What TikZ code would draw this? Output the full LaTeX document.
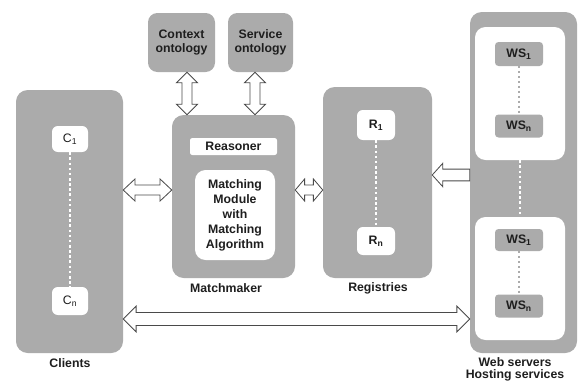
\documentclass[tikz,border=0pt]{standalone}
\usepackage{fontspec}
\setmainfont{Liberation Sans}
\usepackage{xcolor}
\usepackage{tikz}
\usetikzlibrary{calc}
\definecolor{mmgray}{HTML}{ABABAB}
\definecolor{mmdark}{HTML}{4A4A4A}
\definecolor{mmtext}{HTML}{1E1E1E}
\newcommand{\px}{0.03cm}
% hollow arrows: #1 from, #2 to, #3 half shaft, #4 half head, #5 head length
\newcommand{\fathboth}[5]{%
  \draw[fatarrow] let \p1=#1, \p2=#2 in
    (\x1,\y1) -- ({\x1+#5},{\y1+#4}) -- ({\x1+#5},{\y1+#3}) -- ({\x2-#5},{\y1+#3})
    -- ({\x2-#5},{\y1+#4}) -- (\x2,\y1) -- ({\x2-#5},{\y1-#4}) -- ({\x2-#5},{\y1-#3})
    -- ({\x1+#5},{\y1-#3}) -- ({\x1+#5},{\y1-#4}) -- cycle;}
\newcommand{\fatvboth}[5]{%
  \draw[fatarrow] let \p1=#1, \p2=#2 in
    (\x1,\y1) -- ({\x1+#4},{\y1-#5}) -- ({\x1+#3},{\y1-#5}) -- ({\x1+#3},{\y2+#5})
    -- ({\x1+#4},{\y2+#5}) -- (\x1,\y2) -- ({\x1-#4},{\y2+#5}) -- ({\x1-#3},{\y2+#5})
    -- ({\x1-#3},{\y1-#5}) -- ({\x1-#4},{\y1-#5}) -- cycle;}
\newcommand{\fathleft}[5]{%
  \draw[fatarrow] let \p1=#1, \p2=#2 in
    (\x1,\y1) -- ({\x1+#5},{\y1+#4}) -- ({\x1+#5},{\y1+#3}) -- (\x2,{\y1+#3})
    -- (\x2,{\y1-#3}) -- ({\x1+#5},{\y1-#3}) -- ({\x1+#5},{\y1-#4}) -- cycle;}

\begin{document}
\begin{tikzpicture}[x=0.03cm, y=-0.03cm,
  group/.style={fill=mmgray, rounded corners=10pt, inner sep=0pt},
  whitebox/.style={fill=white, rounded corners=5pt, inner sep=1pt, text=mmtext,
    font=\fontsize{10.5}{12.8}\selectfont\bfseries, align=center},
  graybox/.style={fill=mmgray, rounded corners=3pt, inner sep=1pt, text=mmtext,
    minimum width=48*\px, font=\fontsize{10.5}{12}\selectfont\bfseries},
  caption/.style={text=mmtext, inner sep=0pt, align=center,
    font=\fontsize{10.5}{10}\selectfont\bfseries},
  whitedots/.style={white, line width=2.4pt, dash pattern=on 2.2pt off 2.2pt},
  graydots/.style={mmgray, line width=2pt, dash pattern=on 1.8pt off 2.4pt},
  fatarrow/.style={draw=mmdark, fill=white, line width=0.7pt, line join=miter}]
  \useasboundingbox (0,0) rectangle (578,381);

  \node[group, minimum width=107*\px, minimum height=263*\px] (clients) at (69.5,221.5) {};
  \node[whitebox, minimum width=36*\px, minimum height=26*\px, font=\fontsize{10.5}{12}\selectfont] (c1) at (70,139) {C\textsubscript{1}};
  \node[whitebox, minimum width=36*\px, minimum height=28*\px, font=\fontsize{10.5}{12}\selectfont] (cn) at (70,301) {C\textsubscript{n}};
  \node[caption] (clientslabel) at (70,363) {Clients};

  \node[group, rounded corners=8pt, minimum width=67*\px, minimum height=59*\px, text=mmtext, align=center,
    font=\fontsize{10.5}{12.5}\selectfont\bfseries] (context) at (181.5,42.5) {Context\\ontology};
  \node[group, rounded corners=8pt, minimum width=65*\px, minimum height=59*\px, text=mmtext, align=center,
    font=\fontsize{10.5}{12.5}\selectfont\bfseries] (service) at (260.5,42.5) {Service\\ontology};

  \node[group, minimum width=123*\px, minimum height=163*\px] (matchmaker) at (233.5,196.5) {};
  \node[whitebox, rounded corners=2pt, minimum width=87*\px, minimum height=17*\px] (reasoner) at (233.5,146.5) {Reasoner};
  \node[whitebox, rounded corners=9pt, minimum width=80*\px, minimum height=90*\px] (matching) at (235,215)
    {Matching\\Module\\with\\Matching\\Algorithm};
  \node[caption] (matchmakerlabel) at (226,288) {Matchmaker};

  \node[group, minimum width=109*\px, minimum height=191*\px] (registries) at (377.5,182.5) {};
  \node[whitebox, minimum width=38*\px, minimum height=30*\px] (r1) at (376,125) {R\textsubscript{1}};
  \node[whitebox, minimum width=38*\px, minimum height=28*\px] (rn) at (376,241) {R\textsubscript{n}};
  \node[caption] (registrieslabel) at (378,288) {Registries};

  \node[group, minimum width=107*\px, minimum height=341*\px] (webservers) at (523.5,182.5) {};
  \node[whitebox, rounded corners=9pt, minimum width=90*\px, minimum height=133*\px] (hosta) at (520,93.5) {};
  \node[whitebox, rounded corners=9pt, minimum width=90*\px, minimum height=123*\px] (hostb) at (520,278.5) {};
  \node[graybox, minimum height=24*\px] (wsonea) at (519,54) {WS\textsubscript{1}};
  \node[graybox, minimum height=23*\px] (wsna) at (519,126) {WS\textsubscript{n}};
  \node[graybox, minimum height=22*\px] (wsoneb) at (519,240) {WS\textsubscript{1}};
  \node[graybox, minimum height=23*\px] (wsnb) at (519,306) {WS\textsubscript{n}};
  \node[caption] (webserverslabel) at (515,369.5) {Web servers\\Hosting services};

  \draw[whitedots] (c1.south) -- (cn.north);
  \draw[whitedots] (r1.south) -- (rn.north);
  \draw[whitedots] (hosta.south) -- (hostb.north);
  \draw[graydots] (wsonea.south) -- (wsna.north);
  \draw[graydots] (wsoneb.south) -- (wsnb.north);

  \coordinate (midrow) at (0,190);
  \coordinate (wsrow) at (0,175);
  \coordinate (lowrow) at (0,319);
  \coordinate (contextcol) at (187,0);
  \coordinate (servicecol) at (255,0);

  \fathboth{(clients.east |- midrow)}{(matchmaker.west |- midrow)}{4.3pt}{9.4pt}{10pt}
  \fathboth{(matchmaker.east |- midrow)}{(registries.west |- midrow)}{4.3pt}{9.4pt}{8pt}
  \fathleft{(registries.east |- wsrow)}{(webservers.west |- wsrow)}{5pt}{10pt}{9pt}
  \fathboth{(clients.east |- lowrow)}{(webservers.west |- lowrow)}{5.5pt}{11pt}{11pt}
  \fatvboth{(contextcol |- context.south)}{(contextcol |- matchmaker.north)}{4.3pt}{9pt}{9pt}
  \fatvboth{(servicecol |- service.south)}{(servicecol |- matchmaker.north)}{4.3pt}{9pt}{9pt}
\end{tikzpicture}
\end{document}
